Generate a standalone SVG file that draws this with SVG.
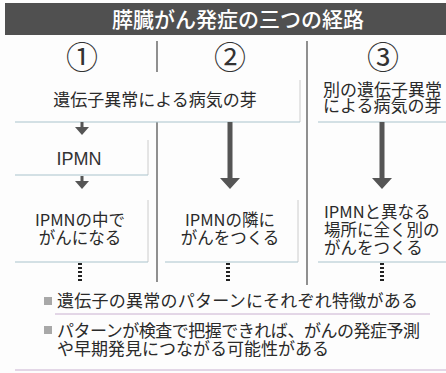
<svg xmlns="http://www.w3.org/2000/svg" width="446" height="373" viewBox="0 0 446 373">
<defs>
<style>
.t{font-family:"Noto Sans CJK JP","Noto Sans",sans-serif;fill:#2a2a2a}
.m{font-size:17px}
.c{font-size:16.5px;text-anchor:middle}
.l{font-size:16.5px}
.n{font-family:"Noto Sans CJK JP",sans-serif;font-size:32px;fill:#333;text-anchor:middle}
.hl{stroke:#a9c3cc;stroke-width:1;fill:none}
.dv{stroke:#555;stroke-width:1.3}
.box{stroke:#ccc;stroke-width:1}
.ar{fill:#555}
.dash{stroke:#222;stroke-width:4;stroke-dasharray:2 2}
</style>
</defs>
<rect width="446" height="373" fill="#fdfdfd"/>
<g id="title">
<rect x="5" y="3" width="441" height="32" fill="#505050"/>
<text x="238" y="27" font-family="Noto Sans CJK JP,sans-serif" font-size="21" font-weight="500" fill="#fff" text-anchor="middle">膵臓がん発症の三つの経路</text>
</g>
<g id="dividers">
<line class="dv" x1="157" y1="41" x2="157" y2="72"/>
<line class="dv" x1="157" y1="122" x2="157" y2="282"/>
<line class="dv" x1="307" y1="41" x2="307" y2="285"/>
<line class="box" x1="300" y1="80" x2="300" y2="122"/>
<line class="box" x1="148" y1="140" x2="148" y2="175"/>
<line class="box" x1="148" y1="200" x2="148" y2="262"/>
<line class="box" x1="298" y1="200" x2="298" y2="262"/>
</g>
<g id="numbers">
<text class="n" x="82" y="69">①</text>
<text class="n" x="230" y="69">②</text>
<text class="n" x="383" y="69">③</text>
</g>
<g id="lines">
<line class="hl" x1="15" y1="122" x2="300" y2="122"/>
<line class="hl" x1="318" y1="122" x2="446" y2="122"/>
<line class="hl" x1="15" y1="175" x2="148" y2="175"/>
<line class="hl" x1="15" y1="262" x2="148" y2="262"/>
<line class="hl" x1="165" y1="262" x2="298" y2="262"/>
<line class="hl" x1="318" y1="262" x2="446" y2="262"/>
<line class="hl" x1="55" y1="314" x2="430" y2="314" style="stroke:#c9b0d0"/>
<line class="hl" x1="15" y1="370" x2="446" y2="370" style="stroke:#c9b0d0"/>
</g>
<g id="node-origin1">
<text class="t m" x="155" y="106" text-anchor="middle">遺伝子異常による病気の芽</text>
</g>
<g id="node-origin3">
<text class="t m" x="323" y="96">別の遺伝子異常</text>
<text class="t m" x="323" y="112">による病気の芽</text>
</g>
<g id="node-ipmn">
<text x="79" y="165" font-family="Liberation Sans,sans-serif" font-size="18" fill="#333" text-anchor="middle">IPMN</text>
</g>
<g id="node-r1">
<text class="t c" x="80" y="226">IPMNの中で</text>
<text class="t c" x="80" y="244">がんになる</text>
</g>
<g id="node-r2">
<text class="t c" x="230" y="226">IPMNの隣に</text>
<text class="t c" x="230" y="244">がんをつくる</text>
</g>
<g id="node-r3">
<text class="t l" x="324" y="218">IPMNと異なる</text>
<text class="t l" x="324" y="236">場所に全く別の</text>
<text class="t l" x="324" y="254">がんをつくる</text>
</g>
<g id="connectors">
<polygon class="ar" points="80.5,122 83.5,122 83.5,127 89,127 82,135 75,127 80.5,127"/>
<polygon class="ar" points="80.5,176 83.5,176 83.5,181 89,181 82,189 75,181 80.5,181"/>
<polygon class="ar" points="227.5,122 232.5,122 232.5,178 240,178 230,189 220,178 227.5,178"/>
<polygon class="ar" points="379.5,122 384.5,122 384.5,178 392,178 382,189 372,178 379.5,178"/>
<line class="dash" x1="80" y1="263" x2="80" y2="281"/>
<line class="dash" x1="228" y1="263" x2="228" y2="281"/>
<line class="dash" x1="382" y1="263" x2="382" y2="281"/>
</g>
<g id="notes">
<rect x="44" y="297" width="8" height="8" fill="#a8a8a8"/>
<text class="t m" x="57" y="307" textLength="361" lengthAdjust="spacing">遺伝子の異常のパターンにそれぞれ特徴がある</text>
<rect x="44" y="326" width="8" height="8" fill="#a8a8a8"/>
<text class="t m" x="57" y="337" textLength="363" lengthAdjust="spacing">パターンが検査で把握できれば、がんの発症予測</text>
<text class="t m" x="57" y="355">や早期発見につながる可能性がある</text>
</g>
</svg>
